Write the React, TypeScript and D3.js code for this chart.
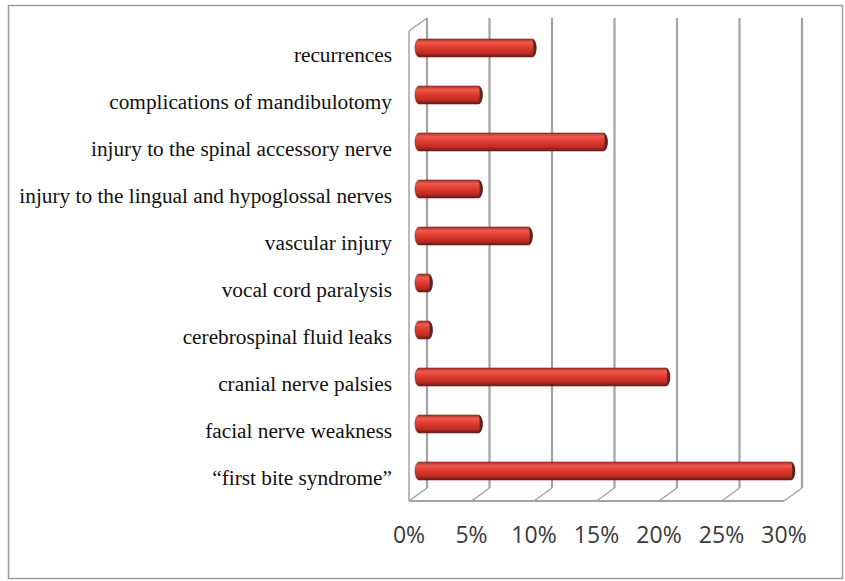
import React from 'react';
import * as d3 from 'd3';

const categories = [
  "recurrences",
  "complications of mandibulotomy",
  "injury to the spinal accessory nerve",
  "injury to the lingual and hypoglossal nerves",
  "vascular injury",
  "vocal cord paralysis",
  "cerebrospinal fluid leaks",
  "cranial nerve palsies",
  "facial nerve weakness",
  "\u201cfirst bite syndrome\u201d"
];
const values = [9.3, 5.0, 15.0, 5.0, 9.0, 1.0, 1.0, 20.0, 5.0, 30.0];
const ticks = [0, 5, 10, 15, 20, 25, 30];

export default function App() {
  const width = 845, height = 581;
  // back wall of the 3d box
  const back = {left: 427, right: 802, top: 18, bottom: 488};
  const depth = {dx: -18, dy: 13};

  const x = d3.scaleLinear().domain([0, 30]).range([back.left, back.right]);
  const y = d3.scaleBand().domain(categories).range([back.top, back.bottom]);
  const bw = y.bandwidth();

  const half = 9, rx = 4, barDx = -11;
  const barPath = (v, c) => {
    const cy = y(c) + bw / 2 + depth.dy / 2;
    const x0 = x(0) + barDx + 3;
    const x1 = x(v) + barDx;
    return "M" + x0 + "," + (cy - half) + "L" + x1 + "," + (cy - half) +
      "A" + rx + "," + half + " 0 0 1 " + x1 + "," + (cy + half) +
      "L" + x0 + "," + (cy + half) +
      "A" + rx + "," + half + " 0 0 1 " + x0 + "," + (cy - half) + "Z";
  };
  const capPath = (v, c) => {
    const cy = y(c) + bw / 2 + depth.dy / 2;
    const x1 = x(v) + barDx;
    return "M" + x1 + "," + (cy - half) +
      "A" + rx + "," + half + " 0 0 1 " + x1 + "," + (cy + half) +
      "A" + (rx * 0.3) + "," + half + " 0 0 0 " + x1 + "," + (cy - half) + "Z";
  };

  const grid = "#a3a3a3";
  const frontY = back.bottom + depth.dy;

  return <svg width={width} height={height}
    style={{position: "absolute", left: 0, top: 0, background: "#fff"}}>
    <defs>
      <linearGradient id="cyl" x1="0" y1="0" x2="0" y2="1">
        <stop offset="0" stopColor="#a8302a" />
        <stop offset="0.2" stopColor="#ee5a4c" />
        <stop offset="0.45" stopColor="#e23d30" />
        <stop offset="0.8" stopColor="#bb2a22" />
        <stop offset="1" stopColor="#5e1c18" />
      </linearGradient>
    </defs>

    <rect x={8.5} y={5.5} width={834} height={573} fill="none" stroke="#9c9c9c" strokeWidth={1.5} />

    {/* back wall gridlines */}
    {ticks.map(t =>
      <line key={"g" + t} x1={x(t)} x2={x(t)} y1={back.top} y2={back.bottom}
        stroke={grid} strokeWidth={2.2} />
    )}
    {/* floor diagonals */}
    {ticks.map(t =>
      <line key={"f" + t} x1={x(t)} y1={back.bottom} x2={x(t) + depth.dx} y2={frontY}
        stroke={grid} strokeWidth={1.5} />
    )}
    {/* left wall */}
    <line x1={x(0)} y1={back.top} x2={x(0) + depth.dx} y2={back.top + depth.dy}
      stroke={grid} strokeWidth={1.5} />
    <line x1={x(0) + depth.dx} y1={back.top + depth.dy} x2={x(0) + depth.dx} y2={frontY}
      stroke={grid} strokeWidth={1.5} />
    <line x1={x(0) + depth.dx} y1={frontY} x2={x(30) + depth.dx} y2={frontY}
      stroke={grid} strokeWidth={1.8} />

    {/* bars */}
    {categories.map((c, i) =>
      <g key={"b" + i}>
        <path d={barPath(values[i], c)} fill="url(#cyl)" stroke="#7a2520" strokeWidth={0.6} />
        <path d={capPath(values[i], c)} fill="#4a2a28" />
      </g>
    )}

    {/* category labels */}
    {categories.map((c, i) =>
      <text key={"l" + i} x={392} y={y(c) + bw / 2 + depth.dy} dy="0.33em" textAnchor="end"
        fontFamily="'Liberation Serif', 'Times New Roman', serif" fontSize={21.3} fill="#111">
        {c}
      </text>
    )}

    {/* x axis labels */}
    {ticks.map(t =>
      <text key={"t" + t} x={x(t) + depth.dx} y={543} textAnchor="middle"
        fontFamily="'Open Sans', sans-serif" fontSize={23} fill="#3a3a3a">
        {t + "%"}
      </text>
    )}
  </svg>;
}
